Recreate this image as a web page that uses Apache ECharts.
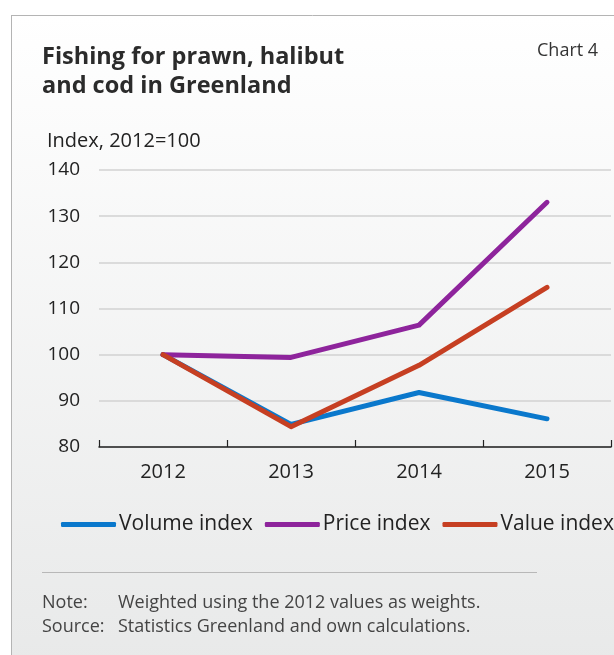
<!DOCTYPE html>
<html>
<head>
<meta charset="utf-8">
<script src="https://cdn.jsdelivr.net/npm/echarts@6/dist/echarts.min.js"></script>
<style>
  html, body { margin: 0; padding: 0; background: #ffffff; }
  #chart { width: 614px; height: 655px; }
</style>
</head>
<body>
<div id="chart"></div>
<script>
// Fishing for prawn, halibut and cod in Greenland (index, 2012 = 100)
const years = ['2012', '2013', '2014', '2015'];
const volumeIndex = [100, 84.9, 91.8, 86.1];
const priceIndex = [100, 99.4, 106.4, 133.0];
const valueIndex = [100, 84.4, 97.7, 114.6];
const yTicks = { min: 80, max: 140, step: 10 };

const FONT = '"Open Sans", "Noto Sans", sans-serif';
const TEXT = '#222222';
const NOTE = '#444444';

const chart = echarts.init(document.getElementById('chart'), null, { renderer: 'canvas' });

const lineSeries = (name, data, color) => ({
  name,
  type: 'line',
  data,
  symbol: 'none',
  lineStyle: { color, width: 5, cap: 'round', join: 'round' },
  itemStyle: { color },
  animation: false
});

const note = (text, left, top) => ({
  type: 'text', left, top,
  style: { text, font: '18px ' + FONT, fill: NOTE }
});

chart.setOption({
  backgroundColor: 'transparent',
  animation: false,
  textStyle: { fontFamily: FONT },
  graphic: [
    {
      type: 'rect', z: -10,
      shape: { x: 11, y: 15, width: 614, height: 655 },
      style: {
        fill: new echarts.graphic.LinearGradient(0, 0, 0, 1, [
          { offset: 0, color: '#ffffff' },
          { offset: 1, color: '#e8e9e9' }
        ]),
        stroke: null
      }
    },
    { type: 'line', z: -5, shape: { x1: 11, y1: 15.5, x2: 614, y2: 15.5 }, style: { stroke: '#b4b4b4', lineWidth: 1 } },
    { type: 'line', z: -5, shape: { x1: 11.5, y1: 15, x2: 11.5, y2: 655 }, style: { stroke: '#b4b4b4', lineWidth: 1 } },
    {
      type: 'text', left: 42, top: 43,
      style: { text: 'Fishing for prawn, halibut\nand cod in Greenland', font: 'bold 23.5px ' + FONT, fill: '#2b2b2b', lineHeight: 29 }
    },
    {
      type: 'text', left: 537, top: 42,
      style: { text: 'Chart 4', font: '18px ' + FONT, fill: '#333333' }
    },
    {
      type: 'text', left: 47, top: 131,
      style: { text: 'Index, 2012=100', font: '20px ' + FONT, fill: TEXT }
    },
    { type: 'line', shape: { x1: 42, y1: 572.5, x2: 537, y2: 572.5 }, style: { stroke: '#b8b8b8', lineWidth: 1 } },
    note('Note:', 42, 594),
    note('Weighted using the 2012 values as weights.', 118, 594),
    note('Source:', 42, 618),
    note('Statistics Greenland and own calculations.', 118, 618)
  ],
  legend: {
    left: 56, top: 509, width: 600,
    itemWidth: 55, itemHeight: 5, itemGap: 12,
    icon: 'roundRect',
    textStyle: { fontFamily: FONT, fontSize: 21, color: TEXT, padding: [0, 0, 0, -2] },
    data: ['Volume index', 'Price index', 'Value index']
  },
  grid: { left: 99, right: 3, top: 170, bottom: 208, containLabel: false },
  xAxis: {
    type: 'category',
    data: years,
    boundaryGap: true,
    axisLine: { show: true, lineStyle: { color: '#222222', width: 1.5 } },
    axisTick: { show: true, inside: true, length: 7, lineStyle: { color: '#222222', width: 1.2 } },
    axisLabel: { color: TEXT, fontSize: 20, fontFamily: FONT, margin: 15 },
    splitLine: { show: false }
  },
  yAxis: {
    type: 'value',
    min: yTicks.min, max: yTicks.max, interval: yTicks.step,
    axisLine: { show: false },
    axisTick: { show: false },
    axisLabel: { color: TEXT, fontSize: 19, fontFamily: FONT, margin: 19 },
    splitLine: { show: true, lineStyle: { color: '#d2d2d2', width: 1.5 } }
  },
  series: [
    lineSeries('Volume index', volumeIndex, '#0a78cc'),
    lineSeries('Price index', priceIndex, '#8e249c'),
    lineSeries('Value index', valueIndex, '#c63f22')
  ]
});
</script>
</body>
</html>
